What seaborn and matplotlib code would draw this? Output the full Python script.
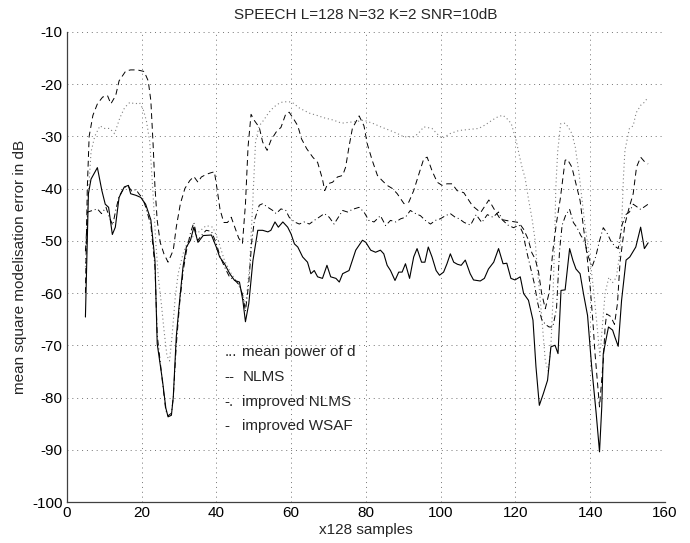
import numpy as np
import pandas as pd
import matplotlib
matplotlib.use('Agg')
import matplotlib.pyplot as plt
import seaborn as sns

# values (x in units of 128 samples, y in dB)

# improved WSAF (solid)
wsaf_x = [5.0, 5.8, 6.5, 8.2, 9.4, 10.3, 11.2, 12.2, 13.0, 14.0,
          15.4, 16.5, 17.1, 18.5, 19.8, 21.1, 22.5, 23.6, 24.2, 25.6,
          26.5, 27.1, 28.0, 28.5, 29.3, 30.2, 31.1, 32.0, 33.1, 34.0,
          35.1, 36.5, 38.7, 40.0, 40.9, 42.2, 43.6, 44.9, 46.2, 47.1,
          47.8, 48.7, 49.8, 51.1, 52.4, 53.8, 54.6, 55.7, 56.6, 57.8,
          59.1, 60.0, 60.9, 61.8, 63.1, 64.4, 65.3, 66.2, 67.1, 68.4,
          69.6, 70.6, 72.0, 72.9, 73.8, 75.5, 77.3, 79.1, 80.0, 81.3,
          82.6, 83.9, 84.8, 85.7, 86.6, 87.8, 88.8, 89.7, 90.6, 91.7,
          92.8, 93.7, 94.9, 95.8, 96.7, 97.7, 98.8, 99.7, 100.8, 101.7,
          102.6, 103.5, 104.5, 105.5, 106.6, 107.9, 108.8, 110.6, 111.7, 112.8,
          114.2, 115.5, 116.7, 117.7, 118.8, 119.9, 121.3, 122.2, 123.5, 124.7,
          125.5, 126.4, 127.5, 128.6, 129.5, 130.6, 131.4, 132.2, 133.3, 134.5,
          135.4, 136.2, 137.3, 138.2, 139.3, 140.4, 141.6, 142.5, 143.1, 143.5,
          144.9, 146.0, 146.6, 147.5, 148.4, 149.6, 150.6, 152.2, 153.5, 154.5,
          155.5]
wsaf_y = [-64.6, -41.0, -38.2, -36.0, -40.4, -43.0, -43.6, -48.8, -47.4, -41.7,
          -39.7, -39.4, -41.0, -41.3, -41.7, -43.0, -46.0, -53.8, -69.7, -76.7,
          -82.0, -83.7, -83.4, -79.9, -68.4, -61.4, -55.0, -51.2, -49.9, -47.4,
          -50.3, -49.0, -48.9, -51.2, -53.1, -54.4, -56.3, -57.6, -57.9, -61.4,
          -65.5, -62.0, -53.8, -48.0, -48.0, -48.3, -48.0, -46.4, -47.4, -46.4,
          -47.4, -48.7, -50.6, -51.2, -53.1, -54.1, -56.3, -55.7, -56.9, -57.2,
          -54.7, -56.9, -57.2, -57.9, -56.3, -55.7, -51.8, -49.9, -50.3, -51.8,
          -52.2, -51.8, -52.5, -54.7, -55.7, -57.6, -56.0, -56.0, -54.4, -57.2,
          -53.1, -51.5, -54.1, -54.1, -51.2, -53.1, -55.7, -56.6, -56.0, -54.4,
          -52.5, -54.1, -54.5, -54.7, -53.7, -56.3, -57.5, -57.7, -57.2, -55.4,
          -54.1, -51.5, -54.4, -54.3, -57.2, -57.5, -56.9, -60.1, -61.4, -65.2,
          -74.1, -81.5, -79.2, -76.7, -70.3, -70.0, -71.6, -59.5, -59.4, -51.5,
          -53.8, -55.4, -56.3, -60.1, -64.3, -74.1, -83.0, -90.4, -81.8, -71.6,
          -66.5, -67.1, -68.4, -70.2, -61.4, -53.7, -53.1, -51.2, -47.4, -51.5,
          -50.4]

# NLMS (dashed)
nlms_x = [5.0, 5.5, 6.0, 7.0, 8.2, 9.6, 10.9, 11.8, 13.1, 14.0,
          15.8, 17.1, 18.9, 20.7, 21.8, 22.5, 23.1, 23.6, 24.2, 25.0,
          26.0, 27.1, 28.5, 29.3, 30.4, 31.6, 32.9, 34.0, 35.1, 36.0,
          37.3, 38.5, 39.5, 40.3, 41.0, 42.0, 43.0, 44.0, 45.0, 46.0,
          47.0, 47.8, 48.5, 49.3, 50.2, 51.5, 52.4, 53.6, 54.6, 56.0,
          57.3, 58.6, 59.5, 60.7, 61.8, 62.8, 64.2, 65.8, 67.1, 68.4,
          69.0, 69.8, 71.1, 72.4, 73.8, 74.6, 75.5, 76.4, 78.2, 79.5,
          80.4, 81.7, 83.1, 84.4, 85.7, 87.1, 88.4, 90.2, 91.5, 92.8,
          94.2, 95.5, 96.4, 97.7, 99.1, 100.4, 101.7, 103.1, 104.4, 106.2,
          108.5, 110.7, 112.9, 114.6, 116.0, 118.2, 120.9, 122.2, 123.4, 124.4,
          125.3, 126.2, 127.0, 128.0, 129.0, 130.0, 131.0, 132.0, 133.3, 133.9,
          135.1, 136.4, 137.3, 138.2, 139.1, 140.0, 140.7, 141.3, 141.9, 142.5,
          142.8, 143.5, 144.0, 144.4, 145.5, 146.5, 147.3, 148.0, 149.3, 150.3,
          151.5, 152.4, 153.5, 154.7, 155.5]
nlms_y = [-60.0, -40.0, -30.0, -26.0, -23.8, -22.5, -22.2, -23.8, -22.2, -19.4,
          -17.5, -17.3, -17.3, -17.6, -19.4, -23.2, -31.5, -39.7, -46.1, -50.3,
          -52.5, -54.1, -51.8, -47.4, -42.9, -40.0, -38.5, -37.7, -38.8, -37.8,
          -37.3, -37.0, -36.8, -40.5, -44.0, -46.5, -46.5, -45.5, -47.5, -49.5,
          -50.5, -43.0, -32.0, -25.8, -27.0, -28.3, -31.1, -32.7, -30.8, -29.2,
          -28.3, -25.7, -25.4, -26.7, -28.0, -30.5, -32.4, -34.0, -35.0, -38.2,
          -40.4, -39.1, -38.8, -37.8, -37.5, -35.9, -32.0, -28.5, -26.1, -28.0,
          -31.5, -34.6, -37.5, -38.5, -39.4, -40.0, -41.0, -42.9, -42.6, -40.4,
          -37.2, -34.3, -34.0, -36.6, -38.8, -39.4, -39.1, -39.1, -40.4, -40.8,
          -43.3, -44.6, -42.2, -44.3, -45.9, -46.2, -46.5, -47.8, -49.7, -52.3,
          -53.5, -56.0, -60.0, -63.0, -60.0, -52.0, -46.5, -42.0, -34.6, -34.4,
          -35.9, -39.7, -42.3, -47.4, -52.5, -58.9, -65.2, -71.6, -76.7, -81.8,
          -79.2, -72.9, -66.5, -64.0, -64.5, -66.0, -62.0, -54.0, -46.8, -44.0,
          -41.0, -35.9, -34.0, -35.0, -35.3]

# improved NLMS (dash-dot)
inlms_x = [5.0, 5.6, 6.9, 8.2, 9.3, 10.5, 11.4, 12.3, 13.1, 14.0,
           15.4, 16.5, 17.4, 18.5, 19.5, 20.2, 21.1, 22.5, 23.6, 24.2,
           25.6, 26.5, 27.1, 28.0, 28.5, 29.3, 30.2, 31.1, 32.0, 33.1,
           34.0, 35.0, 36.0, 37.3, 38.7, 40.0, 41.0, 42.2, 43.6, 44.9,
           46.2, 47.1, 47.8, 48.7, 49.5, 50.2, 51.5, 52.4, 53.8, 55.1,
           56.0, 57.3, 58.6, 59.5, 60.9, 62.2, 63.5, 64.9, 66.2, 67.5,
           68.9, 70.2, 71.5, 72.9, 73.8, 75.1, 76.4, 78.2, 79.5, 80.8,
           82.2, 83.9, 85.3, 86.6, 88.0, 89.3, 90.6, 91.9, 93.3, 94.6,
           95.9, 97.3, 98.6, 99.9, 101.3, 102.6, 103.9, 105.0, 106.3, 108.0,
           109.5, 111.0, 112.5, 114.0, 115.5, 116.5, 118.0, 119.5, 121.0, 122.0,
           123.0, 124.0, 125.0, 126.0, 127.0, 128.0, 129.0, 130.0, 131.0, 131.8,
           132.5, 133.5, 134.5, 135.5, 136.5, 137.5, 138.5, 139.5, 140.5, 141.5,
           142.5, 143.5, 144.5, 145.5, 146.5, 147.5, 148.5, 149.5, 150.5, 151.5,
           152.5, 153.5, 154.5, 155.5]
inlms_y = [-52.0, -44.5, -44.2, -43.9, -44.8, -43.6, -45.5, -47.0, -44.2, -41.5,
           -39.8, -39.6, -40.5, -40.2, -41.2, -41.7, -43.5, -47.0, -55.0, -68.0,
           -77.0, -82.5, -83.5, -83.0, -80.0, -70.0, -62.0, -56.0, -52.0, -48.5,
           -46.5, -50.0, -49.0, -48.0, -48.2, -50.5, -53.0, -55.0, -57.0, -57.5,
           -58.5, -60.5, -63.5, -58.0, -50.0, -46.1, -43.2, -42.9, -43.6, -44.2,
           -44.8, -43.9, -44.2, -45.5, -46.4, -46.8, -46.4, -46.8, -46.1, -45.5,
           -44.8, -45.5, -46.8, -45.2, -44.2, -44.5, -44.0, -43.6, -44.5, -46.1,
           -46.4, -45.2, -47.1, -46.1, -46.4, -45.8, -45.5, -44.2, -44.8, -45.2,
           -46.1, -46.8, -46.1, -45.8, -45.2, -44.8, -45.5, -45.8, -46.5, -47.0,
           -45.0, -46.5, -45.0, -45.5, -44.5, -46.0, -47.0, -47.5, -47.0, -48.5,
           -52.0, -55.0, -58.0, -62.0, -65.0, -66.0, -66.5, -66.5, -63.0, -52.0,
           -47.0, -45.0, -44.0, -46.5, -47.5, -49.0, -50.0, -53.0, -55.0, -53.0,
           -50.0, -47.5, -48.5, -50.0, -51.0, -51.5, -47.0, -45.0, -44.5, -43.0,
           -43.5, -44.0, -43.5, -43.0]

# mean power of d (dotted)
power_x = [5.0, 5.7, 6.5, 7.5, 8.9, 10.0, 11.5, 12.8, 14.2, 15.5,
           16.9, 18.2, 19.5, 20.5, 21.3, 22.2, 23.0, 23.8, 24.5, 25.3,
           26.0, 26.8, 27.5, 28.2, 29.0, 29.8, 31.1, 32.5, 34.7, 37.3,
           39.1, 40.5, 42.2, 44.0, 45.8, 47.1, 47.8, 48.9, 49.8, 50.5,
           51.5, 52.7, 54.0, 55.4, 57.0, 58.0, 59.5, 60.7, 62.0, 63.3,
           65.0, 66.9, 69.0, 71.3, 73.5, 75.8, 77.5, 79.4, 82.1, 84.0,
           86.5, 88.5, 90.1, 92.8, 94.0, 95.5, 97.7, 99.0, 100.4, 102.5,
           104.9, 107.5, 110.2, 112.0, 113.8, 115.5, 116.7, 118.0, 118.9, 120.2,
           121.0, 121.8, 122.6, 123.5, 124.5, 125.3, 125.8, 126.5, 127.2, 128.0,
           128.8, 129.5, 130.0, 130.5, 130.8, 131.3, 132.1, 133.3, 134.2, 135.1,
           136.0, 137.0, 137.8, 138.6, 139.4, 140.2, 141.0, 141.8, 142.6, 143.3,
           144.0, 145.0, 146.0, 147.0, 147.8, 148.4, 148.9, 149.3, 150.5, 151.5,
           152.3, 153.6, 154.5, 155.5]
power_y = [-55.0, -42.0, -33.0, -30.0, -28.0, -28.5, -28.5, -29.5, -26.5, -24.5,
           -23.5, -23.8, -23.6, -25.0, -27.0, -31.0, -40.0, -50.0, -57.0, -62.0,
           -67.0, -72.0, -73.0, -68.0, -61.0, -56.3, -52.5, -49.9, -48.7, -47.1,
           -47.4, -49.9, -53.8, -56.3, -58.2, -60.1, -62.7, -55.0, -42.0, -31.0,
           -28.0, -26.9, -25.5, -24.4, -23.6, -23.4, -23.4, -23.7, -24.5, -25.0,
           -25.6, -26.0, -26.5, -26.9, -27.5, -27.3, -27.2, -26.9, -27.6, -28.2,
           -28.9, -29.5, -30.1, -30.1, -29.5, -28.2, -28.5, -29.5, -30.4, -29.5,
           -28.9, -28.7, -28.5, -27.8, -26.9, -26.2, -26.0, -26.8, -27.6, -30.8,
           -33.5, -36.0, -38.0, -42.0, -46.0, -50.0, -55.0, -60.0, -66.0, -73.0,
           -75.0, -70.0, -62.0, -50.0, -40.0, -33.0, -27.6, -27.5, -28.3, -29.5,
           -32.0, -37.0, -42.0, -47.0, -51.0, -55.0, -60.0, -66.0, -72.0, -66.0,
           -60.0, -57.0, -58.0, -57.0, -53.0, -47.4, -37.8, -32.7, -28.5, -28.0,
           -25.5, -24.0, -23.5, -22.5]

legend_marks = ['...', '--', '-.', '-']
legend_labels = ['mean power of d', 'NLMS', 'improved NLMS', 'improved WSAF']
legend_y = [-71.3, -76.0, -80.8, -85.4]

sns.set_style('white')
plt.rcParams['font.family'] = ['Liberation Sans', 'DejaVu Sans']
plt.rcParams['axes.unicode_minus'] = False

fig = plt.figure(figsize=(6.9, 5.43), dpi=100)
ax = fig.add_axes([0.0967, 0.0755, 0.867, 0.866])

series = [
    (power_x, power_y, dict(color='0.5', linestyle=(0, (1, 2.5)), linewidth=0.8)),
    (nlms_x, nlms_y, dict(color='k', linestyle=(0, (6, 4)), linewidth=0.7)),
    (inlms_x, inlms_y, dict(color='k', linestyle=(0, (6, 3, 1, 3)), linewidth=0.7)),
    (wsaf_x, wsaf_y, dict(color='k', linestyle='-', linewidth=0.8)),
]
for xs, ys, kw in series:
    df = pd.DataFrame({'x': xs, 'y': ys})
    sns.lineplot(data=df, x='x', y='y', ax=ax, sort=False, estimator=None, **kw)

ax.set_xlim(0, 160)
ax.set_ylim(-100, -10)
ax.set_xticks(np.arange(0, 161, 20))
ax.set_yticks(np.arange(-100, -9, 10))
ax.grid(True, color='0.45', linestyle=(0, (1, 4)), linewidth=0.7)
ax.set_axisbelow(True)
for s in ['top', 'right']:
    ax.spines[s].set_visible(False)
for s in ['left', 'bottom']:
    ax.spines[s].set_color('0.25')
    ax.spines[s].set_linewidth(0.9)
ax.tick_params(direction='in', length=4, width=0.7, labelsize=11, colors='k', pad=3)

ax.set_title('SPEECH L=128 N=32 K=2 SNR=10dB', fontsize=11, pad=9)
ax.set_xlabel('x128 samples', fontsize=11, labelpad=2)
ax.set_ylabel('mean square modelisation error in dB', fontsize=11, labelpad=4)

for m, lab, yy in zip(legend_marks, legend_labels, legend_y):
    ax.text(42.2, yy, m, fontsize=11, va='center', ha='left')
    ax.text(47.0, yy, lab, fontsize=11, va='center', ha='left')

fig.savefig('out.png', dpi=100)
